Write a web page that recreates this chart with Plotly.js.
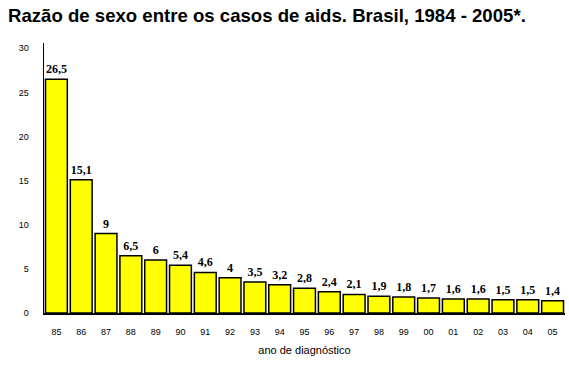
<!DOCTYPE html>
<html>
<head>
<meta charset="utf-8">
<script src="https://cdn.plot.ly/plotly-3.0.1.min.js"></script>
<style>html,body{margin:0;padding:0;background:#fff;}#chart{width:569px;height:369px;}</style>
</head>
<body>
<div id="chart"></div>
<script>
const years = ["85","86","87","88","89","90","91","92","93","94","95","96","97","98","99","00","01","02","03","04","05"];
const ratios = [26.5, 15.1, 9, 6.5, 6, 5.4, 4.6, 4, 3.5, 3.2, 2.8, 2.4, 2.1, 1.9, 1.8, 1.7, 1.6, 1.6, 1.5, 1.5, 1.4];
const yTicks = [0, 5, 10, 15, 20, 25, 30];

const labels = ratios.map(v => String(v).replace('.', ','));

const trace = {
  type: 'bar',
  x: years,
  y: ratios,
  text: labels,
  textposition: 'outside',
  cliponaxis: false,
  textfont: {family: '"Liberation Serif", "Times New Roman", serif', size: 12, color: '#000', weight: 'bold'},
  marker: {color: '#FFFF00', line: {color: '#000', width: 1.5}},
  hoverinfo: 'none'
};

const layout = {
  width: 569, height: 369,
  margin: {l: 44, r: 4, t: 43, b: 56},
  paper_bgcolor: '#fff', plot_bgcolor: '#fff',
  showlegend: false,
  bargap: 0.12,
  title: {
    text: '<b>Razão de sexo entre os casos de aids. Brasil, 1984 - 2005*.</b>',
    font: {family: '"Liberation Sans", Arial, sans-serif', size: 18.6, color: '#000'},
    x: 8 / 569, xref: 'container', xanchor: 'left',
    y: 1 - 15 / 369, yref: 'container', yanchor: 'middle'
  },
  xaxis: {
    type: 'category',
    showline: true, linecolor: '#000', linewidth: 1.5,
    showgrid: false, zeroline: false, ticks: '',
    ticklabelstandoff: 10,
    tickfont: {family: '"Liberation Sans", Arial, sans-serif', size: 9, color: '#000'},
    title: {text: 'ano de diagnóstico', font: {family: '"Liberation Sans", Arial, sans-serif', size: 11, color: '#000'}, standoff: 10}
  },
  yaxis: {
    range: [0, 30.6],
    tickvals: yTicks,
    showline: true, linecolor: '#000', linewidth: 1.5,
    showgrid: false, zeroline: false, ticks: '',
    ticklabelstandoff: 12,
    tickfont: {family: '"Liberation Sans", Arial, sans-serif', size: 9, color: '#000'}
  }
};

Plotly.newPlot('chart', [trace], layout, {staticPlot: true, displayModeBar: false});
</script>
</body>
</html>
